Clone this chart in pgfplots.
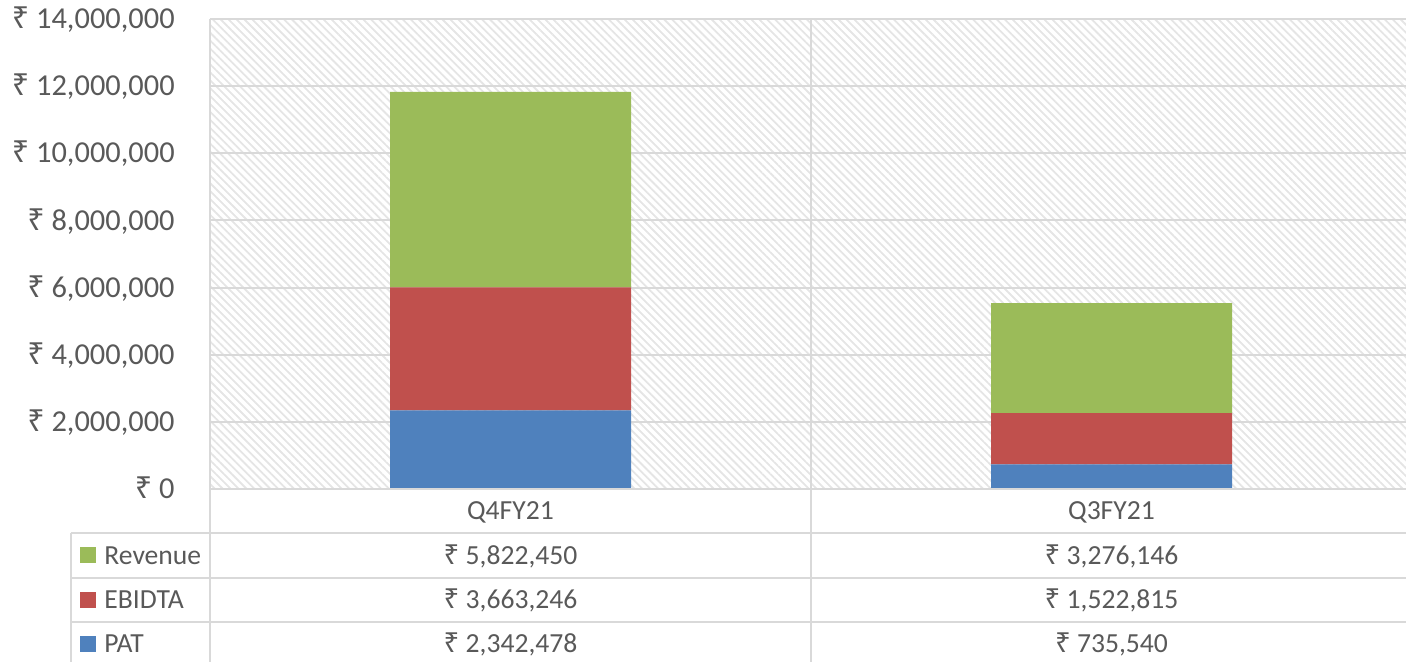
\documentclass[border=0pt]{standalone}
\usepackage{pgfplots}
\pgfplotsset{compat=1.18}
\usetikzlibrary{patterns.meta}
\usepackage{fontspec}
\setmainfont{Carlito}
\newfontfamily\rfont{Noto Sans}
\newcommand\R{{\rfont ₹}}
\definecolor{txt}{HTML}{595959}
\definecolor{gridc}{HTML}{D9D9D9}
\definecolor{cRev}{HTML}{9BBB59}
\definecolor{cEbi}{HTML}{C0504D}
\definecolor{cPat}{HTML}{4F81BD}
\newcommand\tfont{\fontsize{13.8}{16}\selectfont}
\begin{document}
\begin{tikzpicture}
\begin{axis}[
  at={(0,0)}, anchor=south west,
  scale only axis, width=601pt, height=235pt,
  xmin=-0.5, xmax=1.5, ymin=0, ymax=14000000,
  ybar stacked, bar width=120.5pt,
  axis line style={draw=none},
  tick style={draw=none},
  xtick={0,1}, xticklabels={Q4FY21,Q3FY21},
  xticklabel style={anchor=base, yshift=-15.4pt, font=\tfont, text=txt},
  ytick={0,2000000,4000000,6000000,8000000,10000000,12000000,14000000},
  yticklabels={{\R\ 0},{\R\ 2,000,000},{\R\ 4,000,000},{\R\ 6,000,000},{\R\ 8,000,000},{\R\ 10,000,000},{\R\ 12,000,000},{\R\ 14,000,000}},
  yticklabel style={anchor=base east, inner sep=0pt, xshift=-17.5pt, yshift=-4.8pt, font=\fontsize{15.2}{18}\selectfont, text=txt},
  scaled y ticks=false,
  ymajorgrids, grid style={gridc, line width=1pt},
  axis background/.style={pattern={Lines[angle=-45,distance=2.8pt,line width=0.9pt]}, pattern color=black!10},
  clip=false,
]
\addplot[fill=cPat, draw=none] coordinates {(0,2342478) (1,735540)};
\addplot[fill=cEbi, draw=none] coordinates {(0,3663246) (1,1522815)};
\addplot[fill=cRev, draw=none] coordinates {(0,5822450) (1,3276146)};
\end{axis}
% table grid
\begin{scope}[gridc, line width=1pt]
\draw (0,235pt) -- (0,-86.5pt);
\draw (300.5pt,235pt) -- (300.5pt,-86.5pt);
\draw (0,0) -- (601pt,0);
\draw (-69.5pt,-22pt) -- (601pt,-22pt);
\draw (-69.5pt,-44.5pt) -- (601pt,-44.5pt);
\draw (-69.5pt,-66.5pt) -- (601pt,-66.5pt);
\draw (-69.5pt,-22pt) -- (-69.5pt,-86.5pt);
\end{scope}
% legend keys
\fill[cRev] (-65pt,-37.25pt) rectangle ++(8pt,8pt);
\fill[cEbi] (-65pt,-59.5pt) rectangle ++(8pt,8pt);
\fill[cPat] (-65pt,-81.5pt) rectangle ++(8pt,8pt);
\begin{scope}[every node/.style={font=\tfont, text=txt, inner sep=0pt}]
\node[anchor=base west] at (-53pt,-37.65pt) {Revenue};
\node[anchor=base west] at (-53pt,-59.9pt) {EBIDTA};
\node[anchor=base west] at (-53pt,-81.9pt) {PAT};
\node[anchor=base] at (150.25pt,-37.65pt) {\R\ 5,822,450};
\node[anchor=base] at (150.25pt,-59.9pt) {\R\ 3,663,246};
\node[anchor=base] at (150.25pt,-81.9pt) {\R\ 2,342,478};
\node[anchor=base] at (450.75pt,-37.65pt) {\R\ 3,276,146};
\node[anchor=base] at (450.75pt,-59.9pt) {\R\ 1,522,815};
\node[anchor=base] at (450.75pt,-81.9pt) {\R\ 735,540};
\end{scope}
\pgfresetboundingbox
\path[use as bounding box] (-105pt,-86.5pt) rectangle (598pt,244.5pt);
\end{tikzpicture}
\end{document}
